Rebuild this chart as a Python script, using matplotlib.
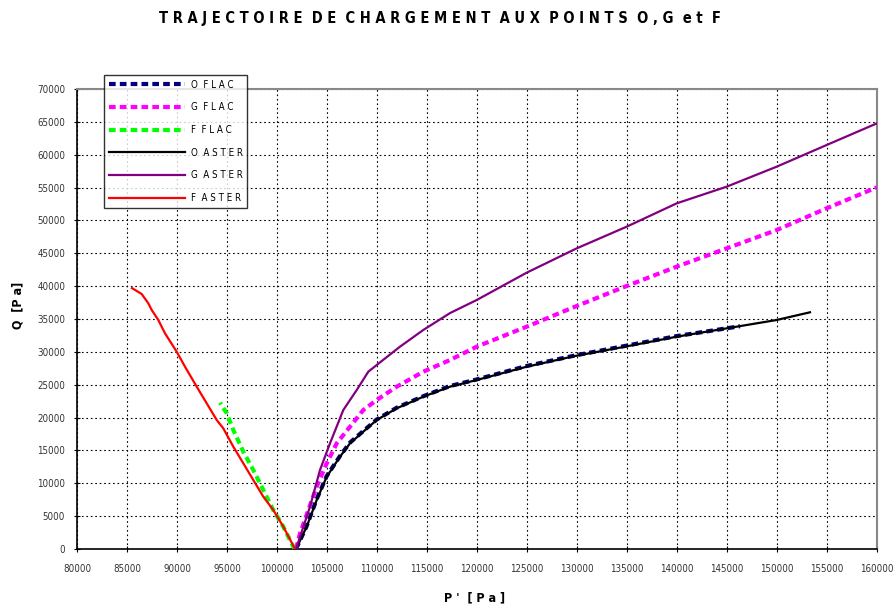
import matplotlib
matplotlib.use("Agg")
import matplotlib.pyplot as plt
from matplotlib import font_manager

# ---- data ----
f_aster_p = [101800, 100630, 99630, 98630, 97630, 96630, 95630, 94630, 93970, 92970,
             91970, 90800, 89970, 88800, 88130, 87470, 87130, 86470, 85500]
f_aster_q = [0, 3400, 5930, 7960, 10500, 13040, 15570, 18360, 19630, 22170,
             24700, 27740, 30020, 32820, 34850, 36370, 37390, 38800, 39700]

f_flac_p = [101800, 101630, 100630, 99630, 98630, 97630, 96630, 95630, 94970, 94300]
f_flac_q = [0, 350, 3400, 5930, 8980, 12020, 14810, 18110, 20650, 22270]

o_aster_p = [101900, 102970, 103970, 104970, 106300, 107300, 108630, 109970, 111970, 114630,
             117300, 119970, 124970, 129800, 134800, 139970, 144970, 149970, 153300]
o_aster_q = [0, 3400, 7460, 11000, 14050, 16080, 17860, 19630, 21410, 23180,
             24700, 25720, 27740, 29370, 30790, 32310, 33580, 34850, 36020]

o_flac_p = [101900, 102970, 103970, 104970, 106300, 107300, 108630, 109970, 111970, 114630,
            117300, 119970, 124970, 129800, 134800, 139970, 146300]
o_flac_q = [0, 3500, 7600, 11100, 14150, 16200, 17950, 19700, 21500, 23250,
            24800, 25800, 27850, 29450, 30900, 32400, 33900]

g_flac_p = [101900, 102300, 103970, 104970, 105970, 107300, 108630, 109970, 111970, 114630,
            117300, 119970, 124970, 129800, 134800, 139970, 144970, 149970, 154970, 160000]
g_flac_q = [0, 2380, 9480, 13040, 16080, 18610, 21150, 22670, 24700, 26980,
            28760, 30790, 33830, 36870, 39920, 42960, 45750, 48540, 51850, 55040]

g_aster_p = [101900, 103300, 104300, 105300, 106630, 107970, 109130, 109970, 112300, 114630,
             117300, 119970, 124970, 129970, 134970, 139970, 144970, 149970, 154970, 160000]
g_aster_q = [0, 6440, 12020, 16080, 21150, 24190, 26980, 28000, 30790, 33330,
             35900, 37890, 42050, 45750, 49050, 52600, 55140, 58180, 61480, 64780]

x_ticks = list(range(80000, 160001, 5000))
y_ticks = list(range(0, 70001, 5000))

title = "T R A J E C T O I R E  D E  C H A R G E M E N T  A U X  P O I N T S  O , G  e t  F"
xlabel = "P '  [ P a ]"
ylabel = "Q  [P a]"

# ---- font ----
names = {f.name for f in font_manager.fontManager.ttflist}
fam = "Liberation Sans Narrow" if "Liberation Sans Narrow" in names else "DejaVu Sans"
plt.rcParams["font.family"] = [fam, "DejaVu Sans"]
plt.rcParams["font.stretch"] = "condensed"

fig = plt.figure(figsize=(8.94, 6.08), dpi=100)
ax = fig.add_axes([77/894, 1-549/608, 800/894, 460/608])

dash = (0, (1.6, 1.0))
ax.plot(o_flac_p, o_flac_q, color="#000080", lw=3, linestyle=dash, label="O  F L A C", zorder=3)
ax.plot(g_flac_p, g_flac_q, color="#FF00FF", lw=3, linestyle=dash, label="G  F L A C", zorder=3)
ax.plot(f_flac_p, f_flac_q, color="#00FF00", lw=3, linestyle=dash, label="F  F L A C", zorder=3)
ax.plot(o_aster_p, o_aster_q, color="black", lw=1.6, label="O  A S T E R", zorder=4)
ax.plot(g_aster_p, g_aster_q, color="#800080", lw=1.6, label="G  A S T E R", zorder=4)
ax.plot(f_aster_p, f_aster_q, color="#FF0000", lw=1.6, label="F  A S T E R", zorder=4)

ax.set_xlim(80000, 160000)
ax.set_ylim(0, 70000)
ax.set_xticks(x_ticks)
ax.set_yticks(y_ticks)
ax.set_xticklabels([str(v) for v in x_ticks])
ax.set_yticklabels([str(v) for v in y_ticks])
ax.tick_params(axis="both", labelsize=7, direction="inout", length=5, width=0.8,
               colors="black", labelcolor="#333333")
ax.tick_params(axis="x", pad=8)
ax.tick_params(axis="y", pad=6)
ax.grid(True, color="black", linestyle=(0, (1.5, 2.5)), linewidth=0.8)
for s in ["left", "bottom"]:
    ax.spines[s].set_color("black")
    ax.spines[s].set_linewidth(1.2)
for s in ["top", "right"]:
    ax.spines[s].set_color("#888888")
    ax.spines[s].set_linewidth(1.5)

fig.text(440/894, 1-18/608, title, ha="center", va="center", fontsize=10.5, fontweight="bold")
fig.text(475/894, 1-598/608, xlabel, ha="center", va="center", fontsize=9, fontweight="bold")
fig.text(18/894, 1-305/608, ylabel, ha="center", va="center", fontsize=9, fontweight="bold", rotation=90)

leg = fig.legend(loc="upper left", bbox_to_anchor=(104/894, 1-75/608), fontsize=7,
                 frameon=True, fancybox=False, handlelength=7.8, labelspacing=1.3,
                 borderaxespad=0, handletextpad=0.6, borderpad=0.5)
leg.get_frame().set_edgecolor("black")
leg.get_frame().set_linewidth(1.0)

fig.savefig("out.png", dpi=100)
